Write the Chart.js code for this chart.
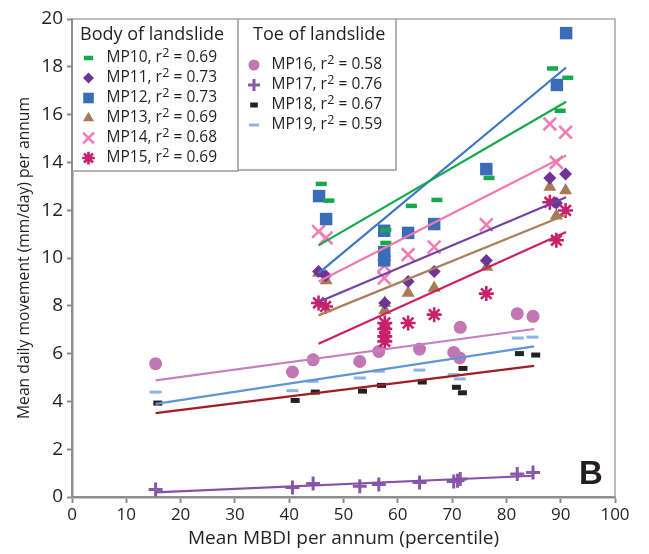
<!DOCTYPE html>
<html><head><meta charset="utf-8">
<script src="https://cdn.jsdelivr.net/npm/chart.js@4.4.1/dist/chart.umd.min.js"></script>
<style>html,body{margin:0;padding:0;background:#fff;}#wrap{width:649px;height:554px;position:relative;}</style>
</head><body><div id="wrap"><canvas id="c" width="649" height="554"></canvas></div>
<script>
// ---------- data ----------
const bodyTitle = 'Body of landslide';
const toeTitle = 'Toe of landslide';
const seriesNames = ['MP10','MP11','MP12','MP13','MP14','MP15','MP16','MP17','MP18','MP19'];
const rSquared = ['0.69','0.73','0.73','0.69','0.68','0.69','0.58','0.76','0.67','0.59'];

const mp10X = [45.9, 47.3, 57.8, 57.8, 62.5, 67.2, 76.8, 88.5, 91.3, 89.9];
const mp10Y = [13.10, 12.40, 11.17, 10.63, 12.18, 12.43, 13.35, 17.93, 17.54, 16.16];
const mp11X = [45.4, 46.7, 57.6, 61.9, 66.7, 76.3, 88.0, 89.2, 90.9];
const mp11Y = [9.44, 9.26, 8.12, 9.02, 9.44, 9.90, 13.35, 12.30, 13.51];
const mp12X = [45.5, 46.8, 57.5, 57.5, 57.5, 61.9, 66.7, 76.3, 89.3, 91.0];
const mp12Y = [12.59, 11.63, 11.14, 10.25, 9.90, 11.05, 11.42, 13.72, 17.24, 19.41];
const mp13X = [45.4, 46.8, 57.6, 57.6, 61.9, 66.7, 76.4, 88.0, 89.2, 90.9];
const mp13Y = [9.37, 9.06, 8.12, 7.81, 8.54, 8.74, 9.62, 12.97, 11.77, 12.82];
const mp14X = [45.4, 46.8, 57.5, 57.5, 61.9, 66.7, 76.3, 88.0, 89.2, 90.9];
const mp14Y = [11.11, 10.84, 9.68, 9.16, 10.14, 10.46, 11.39, 15.61, 14.00, 15.26];
const mp15X = [45.4, 46.7, 57.6, 57.6, 57.6, 57.6, 61.9, 66.7, 76.3, 88.0, 89.2, 90.9];
const mp15Y = [8.12, 7.97, 7.28, 7.03, 6.72, 6.51, 7.28, 7.63, 8.51, 12.33, 10.74, 11.99];
const mp16X = [15.4, 40.6, 44.4, 53.0, 56.5, 64.0, 70.3, 71.4, 71.5, 82.0, 84.9];
const mp16Y = [5.58, 5.23, 5.74, 5.67, 6.09, 6.19, 6.05, 5.82, 7.10, 7.67, 7.56];
const mp17X = [15.4, 40.6, 44.4, 53.0, 56.5, 64.0, 70.3, 71.0, 71.5, 82.0, 84.9];
const mp17Y = [0.31, 0.40, 0.57, 0.45, 0.52, 0.61, 0.65, 0.68, 0.75, 0.96, 1.03];
const mp18X = [15.8, 41.1, 44.8, 53.5, 57.0, 64.5, 70.8, 71.9, 72.0, 82.4, 85.4];
const mp18Y = [3.93, 4.04, 4.39, 4.43, 4.67, 4.81, 4.59, 4.36, 5.38, 6.00, 5.94];
const mp19X = [15.4, 40.6, 44.3, 53.0, 56.5, 64.0, 70.3, 71.4, 71.5, 82.1, 84.8];
const mp19Y = [4.39, 4.45, 4.84, 4.98, 5.26, 5.31, 5.12, 4.94, 7.03, 6.65, 6.69];

// fitted trend lines (start / end)
const fitX0 = [45.4, 45.4, 45.4, 45.4, 45.4, 45.4, 15.4, 15.4, 15.4, 15.4];
const fitY0 = [10.53, 8.16, 9.37, 7.60, 9.02, 6.41, 4.88, 0.19, 3.51, 3.90];
const fitX1 = [91.0, 91.0, 91.0, 91.0, 91.0, 91.0, 85.1, 85.1, 85.1, 85.1];
const fitY1 = [16.54, 12.54, 17.97, 11.81, 14.29, 11.09, 7.03, 0.89, 5.49, 6.30];

const xTicks = [0,10,20,30,40,50,60,70,80,90,100];
const yTicks = [0,2,4,6,8,10,12,14,16,18,20];
const xTitle = 'Mean MBDI per annum (percentile)';
const yTitle = 'Mean daily movement (mm/day) per annum';
const panelLabel = 'B';

// ---------- styles ----------
const allX = [mp10X, mp11X, mp12X, mp13X, mp14X, mp15X, mp16X, mp17X, mp18X, mp19X];
const allY = [mp10Y, mp11Y, mp12Y, mp13Y, mp14Y, mp15Y, mp16Y, mp17Y, mp18Y, mp19Y];
const styles = [
  {color:'#16a84c', ps:'line', r:5.5, bw:4.5, fit:'#16a84c'},
  {color:'#6e3595', ps:'rectRot', r:6.5, bw:0, fit:'#7443a0'},
  {color:'#3b6cb7', ps:'rect', r:8.8, bw:0, fit:'#3d76c6'},
  {color:'#a67b55', ps:'triangle', r:7.5, bw:0, fit:'#a8805c'},
  {color:'#f27cb4', ps:'crossRot', r:9, bw:2.6, fit:'#f07ab0'},
  {color:'#c8206a', ps:'star', r:7.5, bw:2.6, fit:'#cd2064'},
  {color:'#c276b2', ps:'circle', r:6.5, bw:0, fit:'#c880bd'},
  {color:'#8a58a8', ps:'cross', r:7, bw:3, fit:'#8650a8'},
  {color:'#222222', ps:'line', r:4.5, bw:5, fit:'#a11d22'},
  {color:'#8db4e2', ps:'line', r:6, bw:3, fit:'#5f95d6'}
];
const FONT = "'Open Sans', 'Noto Sans', sans-serif";
const TXT = '#231f20';
const AX = '#8e8e8e';

const datasets = [];
seriesNames.forEach((n, i) => {
  datasets.push({
    type: 'line', label: n + ' fit', showLine: true, fill: false,
    data: [{x: fitX0[i], y: fitY0[i]}, {x: fitX1[i], y: fitY1[i]}],
    borderColor: styles[i].fit, borderWidth: 2.2, pointRadius: 0, order: 1
  });
});
seriesNames.forEach((n, i) => {
  const s = styles[i];
  datasets.push({
    type: 'scatter', label: n,
    data: allX[i].map((x, k) => ({x: x, y: allY[i][k]})),
    pointStyle: s.ps, pointRadius: s.r, pointHoverRadius: s.r,
    pointBackgroundColor: s.color, pointBorderColor: s.color, pointBorderWidth: s.bw,
    order: 2
  });
});

function drawMarker(ctx, s, x, y) {
  ctx.save();
  ctx.fillStyle = s.color; ctx.strokeStyle = s.color; ctx.lineWidth = s.bw;
  Chart.helpers.drawPoint(ctx, {pointStyle: s.ps, radius: s.r * 0.85, borderWidth: s.bw, rotation: 0}, x, y);
  ctx.restore();
}
function drawItem(ctx, i, x, y) {
  ctx.textBaseline = 'middle';
  ctx.textAlign = 'left';
  ctx.fillStyle = TXT;
  ctx.font = '15.5px ' + FONT;
  const a = seriesNames[i] + ', r';
  ctx.fillText(a, x, y);
  let w = ctx.measureText(a).width;
  ctx.font = '12.5px ' + FONT;
  ctx.fillText('2', x + w + 0.5, y - 5);
  w += ctx.measureText('2').width + 0.5;
  ctx.font = '15.5px ' + FONT;
  ctx.fillText(' = ' + rSquared[i], x + w, y);
}

const overlay = {
  id: 'overlay',
  beforeDatasetsDraw(chart) {
    const {ctx, chartArea: a} = chart;
    ctx.save();
    ctx.strokeStyle = '#a6a6a6'; ctx.lineWidth = 1.5;
    ctx.beginPath();
    ctx.moveTo(a.left, a.top); ctx.lineTo(a.right, a.top); ctx.lineTo(a.right, a.bottom);
    ctx.stroke();
    ctx.restore();
  },
  afterDatasetsDraw(chart) {
    const {ctx, chartArea: a} = chart;
    ctx.save();
    // legend boxes
    ctx.fillStyle = '#fff';
    ctx.strokeStyle = '#9a9a9a'; ctx.lineWidth = 1.5;
    ctx.fillRect(a.left + 1, a.top + 1, 238 - a.left, 171 - a.top);
    ctx.fillRect(238, a.top + 1, 396 - 238, 170 - a.top);
    ctx.beginPath();
    ctx.moveTo(238, a.top); ctx.lineTo(238, 171); ctx.lineTo(a.left, 171);
    ctx.moveTo(396, a.top); ctx.lineTo(396, 170); ctx.lineTo(238, 170);
    ctx.stroke();
    // titles
    ctx.fillStyle = TXT;
    ctx.font = '18px ' + FONT;
    ctx.textBaseline = 'alphabetic'; ctx.textAlign = 'left';
    ctx.fillText(bodyTitle, 80, 40);
    ctx.fillText(toeTitle, 253, 39.5);
    for (let i = 0; i < 6; i++) {
      const y = 58 + i * 20;
      drawMarker(ctx, styles[i], 88.5, y);
      drawItem(ctx, i, 106.5, y);
    }
    for (let i = 6; i < 10; i++) {
      const y = 65 + (i - 6) * 20;
      drawMarker(ctx, styles[i], 254, y);
      drawItem(ctx, i, 271.5, y);
    }
    // panel label
    ctx.fillStyle = '#231f20';
    ctx.font = "bold 33px 'Liberation Sans', Arial, sans-serif";
    ctx.textBaseline = 'alphabetic';
    ctx.fillText(panelLabel, 579, 483.5);
    ctx.restore();
  }
};

new Chart(document.getElementById('c'), {
  data: {datasets},
  options: {
    responsive: false, animation: false, devicePixelRatio: 1,
    layout: {padding: {left: 0, top: 19, right: 34, bottom: 0}},
    plugins: {legend: {display: false}, tooltip: {enabled: false}},
    scales: {
      x: {
        type: 'linear', min: 0, max: 100,
        afterBuildTicks: ax => { ax.ticks = xTicks.map(v => ({value: v})); },
        afterFit: ax => { ax.height = 57; },
        border: {color: AX, width: 2.5},
        grid: {drawOnChartArea: false, drawTicks: true, tickLength: 6, tickColor: AX, tickWidth: 2},
        ticks: {color: TXT, font: {family: FONT, size: 17}, padding: 2, maxRotation: 0},
        title: {display: true, text: xTitle, color: TXT, font: {family: FONT, size: 19}, padding: {top: 0, bottom: 4}}
      },
      y: {
        type: 'linear', min: 0, max: 20,
        afterBuildTicks: ax => { ax.ticks = yTicks.map(v => ({value: v})); },
        afterFit: ax => { ax.width = 72; },
        border: {color: AX, width: 2.5},
        grid: {drawOnChartArea: false, drawTicks: true, tickLength: 5, tickColor: AX, tickWidth: 2},
        ticks: {color: TXT, font: {family: FONT, size: 19}, padding: 4},
        title: {display: true, text: yTitle, color: TXT, font: {family: FONT, size: 15.7}, padding: {top: 15, bottom: 0}}
      }
    }
  },
  plugins: [overlay]
});
</script></body></html>
